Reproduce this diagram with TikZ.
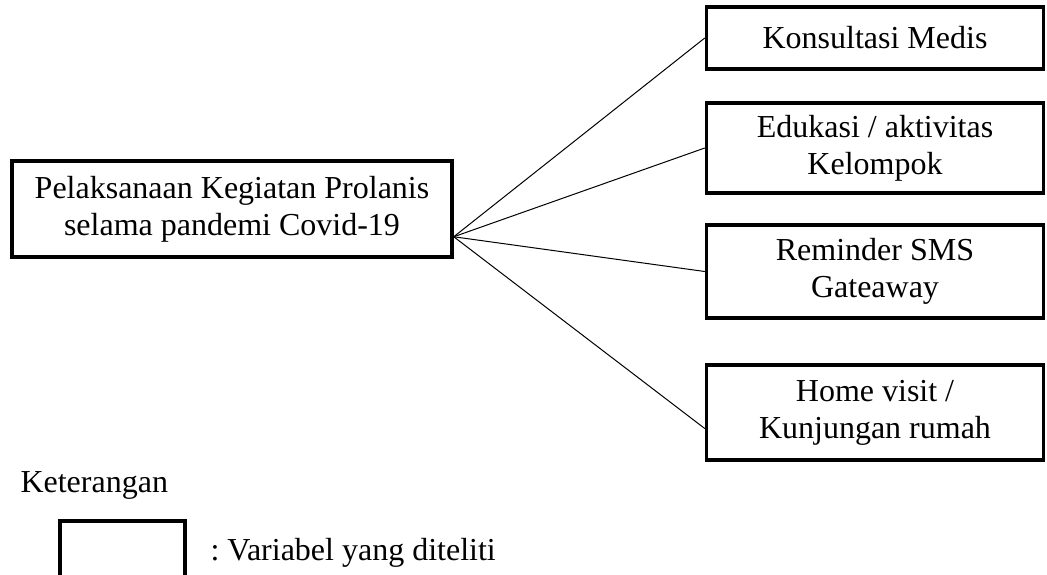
\documentclass[tikz,border=0pt]{standalone}
\usepackage{fontspec}
\setmainfont{Liberation Serif}
\frenchspacing
\usetikzlibrary{positioning}

\begin{document}
\begin{tikzpicture}[
    x=1pt,y=1pt,
    every node/.style={font=\fontsize{32}{37}\selectfont},
    varbox/.style={draw,line width=3.5pt,align=center,inner sep=0pt,minimum width=#1},
    varbox/.default={337pt},
    link/.style={line width=1pt}
  ]
  \useasboundingbox (0,0) rectangle (1047,-574);

  \node[varbox=440pt,minimum height=96pt] (main) at (232,-209) {Pelaksanaan Kegiatan Prolanis\\selama pandemi Covid-19};
  \node[varbox,minimum height=62pt] (konsul) at (875,-38) {Konsultasi Medis};
  \node[varbox,minimum height=90pt] (edukasi) at (875,-148) {Edukasi / aktivitas\\Kelompok};
  \node[varbox,minimum height=93pt] (reminder) at (875,-271.5) {Reminder SMS\\Gateaway};
  \node[varbox,minimum height=95pt] (visit) at (875,-412.5) {Home visit /\\Kunjungan rumah};

  \coordinate (hub) at ([yshift=22pt]main.south east);
  \draw[link] (hub) -- (konsul.west);
  \draw[link] (hub) -- (edukasi.west);
  \draw[link] (hub) -- (reminder.west);
  \draw[link] (hub) -- ([yshift=-16pt]visit.west);

  % legend
  \node[anchor=base west] (ket) at (17,-492) {Keterangan};
  \draw[line width=3.5pt] (60,-600) -- (60,-521) -- (185,-521) -- (185,-600);
  \node[anchor=base west] (legend) at (207,-560) {: Variabel yang diteliti};
\end{tikzpicture}
\end{document}
